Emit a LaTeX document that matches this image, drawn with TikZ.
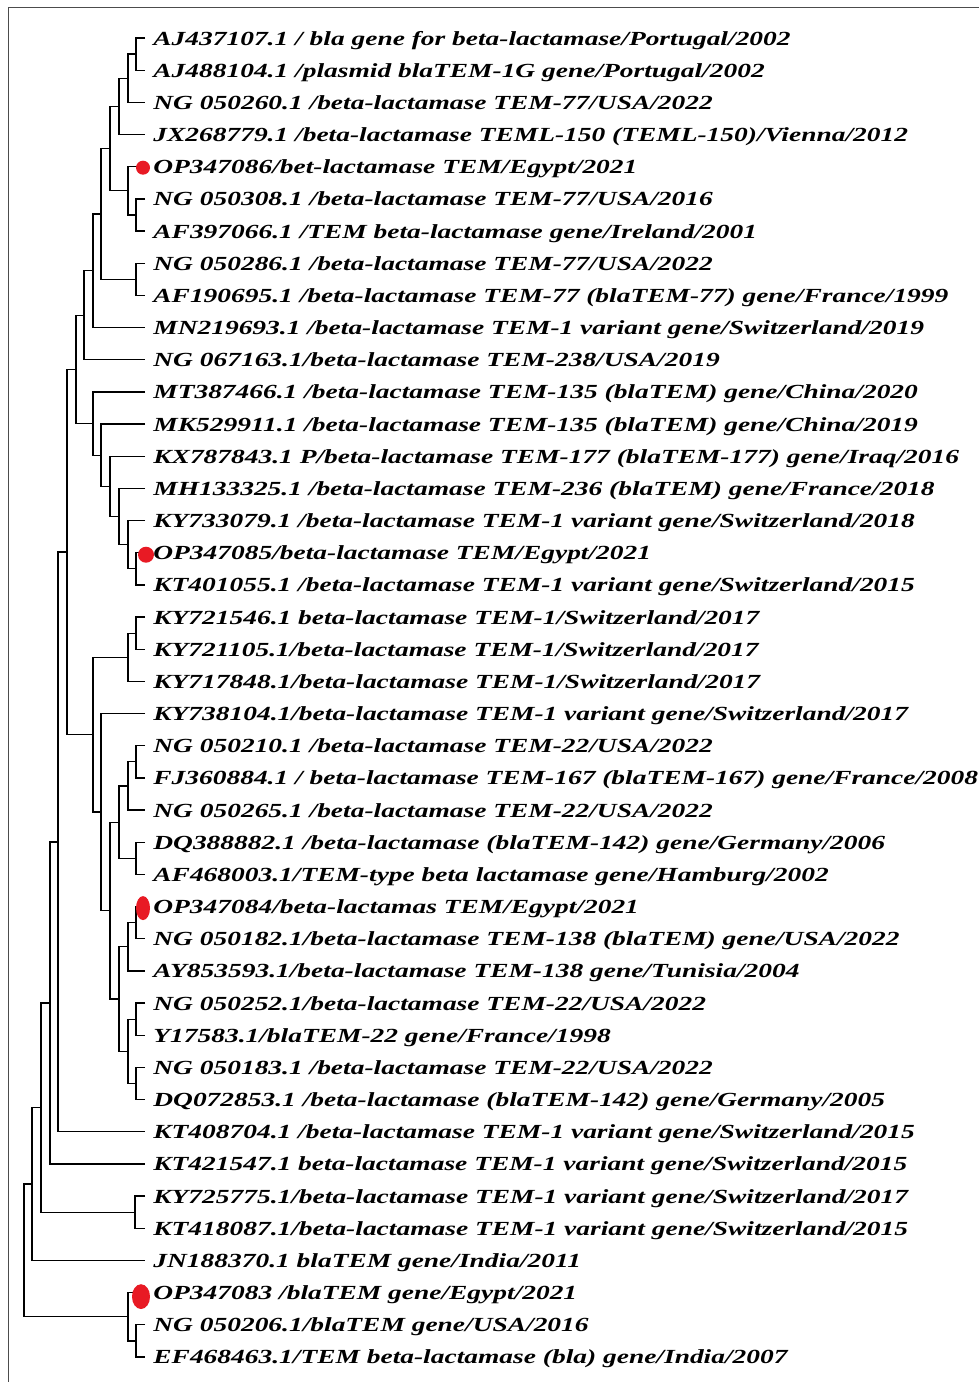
\documentclass[tikz,border=0pt]{standalone}
\usepackage{fontspec}
\setmainfont{Liberation Serif}[FakeStretch=1.372]
\usetikzlibrary{calc}

\tikzset{
  branch/.style={line width=0.65pt},
  leaf/.style={anchor=west, inner xsep=4pt, inner ysep=0pt,
    text height=7pt, text depth=0pt,
    font=\fontsize{10}{12}\selectfont\bfseries\itshape},
  hit/.style={fill={rgb,255:red,232;green,26;blue,36}},
}
% one clade: name, x of its node, first child, second child
\newcommand{\clade}[4]{%
  \coordinate (#1m) at ($(#3)!0.5!(#4)$);
  \coordinate (#1) at (#2,0 |- #1m);
  \draw[branch] (#3) -| (#1) |- (#4);
}

\begin{document}
\begin{tikzpicture}[x=0.5pt,y=-0.5pt]
  \useasboundingbox (0,0) rectangle (979,1382);
  \draw[gray!60!black,line width=0.5pt] (8,1382) -- (8,7) -- (979,7);

  % leaves
  \foreach \lab [count=\i from 0] in {
    AJ437107.1 / bla gene for beta-lactamase/Portugal/2002,
    AJ488104.1 /plasmid blaTEM-1G gene/Portugal/2002,
    NG 050260.1 /beta-lactamase TEM-77/USA/2022,
    JX268779.1 /beta-lactamase TEML-150 (TEML-150)/Vienna/2012,
    OP347086/bet-lactamase TEM/Egypt/2021,
    NG 050308.1 /beta-lactamase TEM-77/USA/2016,
    AF397066.1 /TEM beta-lactamase gene/Ireland/2001,
    NG 050286.1 /beta-lactamase TEM-77/USA/2022,
    AF190695.1 /beta-lactamase TEM-77 (blaTEM-77) gene/France/1999,
    MN219693.1 /beta-lactamase TEM-1 variant gene/Switzerland/2019,
    NG 067163.1/beta-lactamase TEM-238/USA/2019,
    MT387466.1 /beta-lactamase TEM-135 (blaTEM) gene/China/2020,
    MK529911.1 /beta-lactamase TEM-135 (blaTEM) gene/China/2019,
    KX787843.1 P/beta-lactamase TEM-177 (blaTEM-177) gene/Iraq/2016,
    MH133325.1 /beta-lactamase TEM-236 (blaTEM) gene/France/2018,
    KY733079.1 /beta-lactamase TEM-1 variant gene/Switzerland/2018,
    OP347085/beta-lactamase TEM/Egypt/2021,
    KT401055.1 /beta-lactamase TEM-1 variant gene/Switzerland/2015,
    KY721546.1 beta-lactamase TEM-1/Switzerland/2017,
    KY721105.1/beta-lactamase TEM-1/Switzerland/2017,
    KY717848.1/beta-lactamase TEM-1/Switzerland/2017,
    KY738104.1/beta-lactamase TEM-1 variant gene/Switzerland/2017,
    NG 050210.1 /beta-lactamase TEM-22/USA/2022,
    FJ360884.1 / beta-lactamase TEM-167 (blaTEM-167) gene/France/2008,
    NG 050265.1 /beta-lactamase TEM-22/USA/2022,
    DQ388882.1 /beta-lactamase (blaTEM-142) gene/Germany/2006,
    AF468003.1/TEM-type beta lactamase gene/Hamburg/2002,
    OP347084/beta-lactamas TEM/Egypt/2021,
    NG 050182.1/beta-lactamase TEM-138 (blaTEM) gene/USA/2022,
    AY853593.1/beta-lactamase TEM-138 gene/Tunisia/2004,
    NG 050252.1/beta-lactamase TEM-22/USA/2022,
    Y17583.1/blaTEM-22 gene/France/1998,
    NG 050183.1 /beta-lactamase TEM-22/USA/2022,
    DQ072853.1 /beta-lactamase (blaTEM-142) gene/Germany/2005,
    KT408704.1 /beta-lactamase TEM-1 variant gene/Switzerland/2015,
    KT421547.1 beta-lactamase TEM-1 variant gene/Switzerland/2015,
    KY725775.1/beta-lactamase TEM-1 variant gene/Switzerland/2017,
    KT418087.1/beta-lactamase TEM-1 variant gene/Switzerland/2015,
    JN188370.1 blaTEM gene/India/2011,
    OP347083 /blaTEM gene/Egypt/2021,
    NG 050206.1/blaTEM gene/USA/2016,
    EF468463.1/TEM beta-lactamase (bla) gene/India/2007}
    \node[leaf] (t\i) at (145,{38+32.17*\i}) {\lab};

  % upper group
  \clade{n01}{136}{t0.west}{t1.west}
  \clade{n02}{128}{n01}{t2.west}
  \clade{n03}{119}{n02}{t3.west}
  \clade{n56}{136}{t5.west}{t6.west}
  \clade{n46}{128}{t4.west}{n56}
  \clade{n06}{110}{n03}{n46}
  \clade{n78}{136}{t7.west}{t8.west}
  \clade{n08}{101}{n06}{n78}
  \clade{n09}{93}{n08}{t9.west}
  \clade{n010}{84}{n09}{t10.west}
  % ladder 11-17
  \clade{n1617}{136}{t16.west}{t17.west}
  \clade{n1517}{128}{t15.west}{n1617}
  \clade{n1417}{119}{t14.west}{n1517}
  \clade{n1317}{110}{t13.west}{n1417}
  \clade{n1217}{101}{t12.west}{n1317}
  \clade{n1117}{93}{t11.west}{n1217}
  \clade{n017}{76}{n010}{n1117}
  % middle group
  \clade{n1819}{136}{t18.west}{t19.west}
  \clade{n1820}{128}{n1819}{t20.west}
  \clade{n2223}{136}{t22.west}{t23.west}
  \clade{n2224}{128}{n2223}{t24.west}
  \clade{n2526}{136}{t25.west}{t26.west}
  \clade{n2226}{119}{n2224}{n2526}
  \clade{n2728}{136}{t27.west}{t28.west}
  \clade{n2729}{128}{n2728}{t29.west}
  \clade{n3031}{136}{t30.west}{t31.west}
  \clade{n3233}{136}{t32.west}{t33.west}
  \clade{n3033}{128}{n3031}{n3233}
  \clade{n2733}{119}{n2729}{n3033}
  \clade{n2233}{110}{n2226}{n2733}
  \clade{n2133}{101}{t21.west}{n2233}
  \clade{n1833}{93}{n1820}{n2133}
  \clade{n033}{67}{n017}{n1833}
  % lower group
  \clade{n034}{58}{n033}{t34.west}
  \clade{n035}{50}{n034}{t35.west}
  \clade{n3637}{135}{t36.west}{t37.west}
  \clade{n037}{41}{n035}{n3637}
  \clade{n038}{32}{n037}{t38.west}
  \clade{n4041}{136}{t40.west}{t41.west}
  \clade{n3941}{128}{t39.west}{n4041}
  \clade{root}{24}{n038}{n3941}

  % Egypt isolates
  \fill[hit] ($(t4.west)+(-2,1)$) circle[radius=3.5pt];
  \fill[hit] ($(t16.west)+(1,2)$) circle[radius=4pt];
  \fill[hit] ($(t27.west)+(-2,1.5)$) ellipse[x radius=3.5pt,y radius=6pt];
  \fill[hit] ($(t39.west)+(-4,4)$) ellipse[x radius=4.5pt,y radius=6.2pt];
\end{tikzpicture}
\end{document}
